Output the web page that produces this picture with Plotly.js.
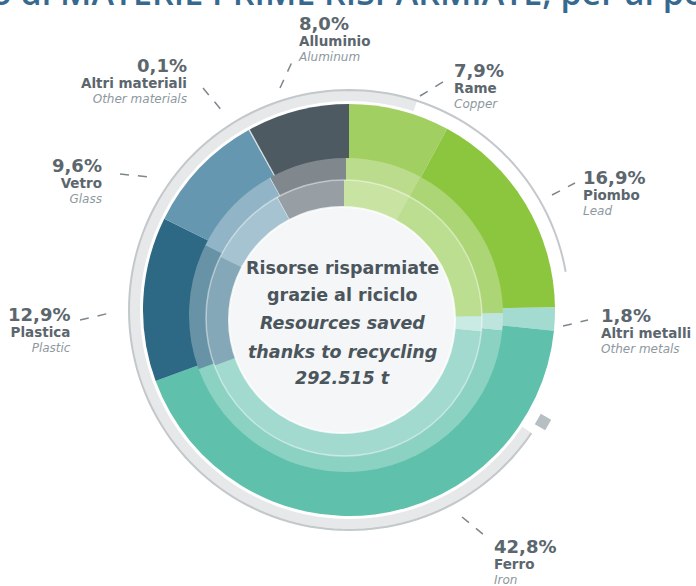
<!DOCTYPE html>
<html>
<head>
<meta charset="utf-8">
<script src="https://cdn.plot.ly/plotly-3.0.1.min.js"></script>
<style>html,body{margin:0;padding:0;background:#fff;}#chart{width:696px;height:586px;}</style>
</head>
<body>
<div id="chart"></div>
<script>
// ---- data ----
const labelsIt = ['Rame','Piombo','Altri metalli','Ferro','Plastica','Vetro','Altri materiali','Alluminio'];
const labelsEn = ['Copper','Lead','Other metals','Iron','Plastic','Glass','Other materials','Aluminum'];
const shares   = [7.9, 16.9, 1.8, 42.8, 12.9, 9.6, 0.1, 8.0];
const colors   = ['#a2cf61','#8cc63f','#a3dbd1','#5fc0ac','#2d6984','#6697b0','#d3dbdf','#4e5a62'];
const centerLines = ['Risorse risparmiate','grazie al riciclo','Resources saved','thanks to recycling','292.515 t'];
const topTitle = 'o di MATERIE PRIME RISPARMIATE, per al po';

// ---- geometry / styling ----
const W = 696, H = 586;
const px = x => x / W;
const py = y => 1 - y / H;
const C = {x: 349, y: 310};

function tint(hex, f) {
  const n = parseInt(hex.slice(1), 16);
  const r = (n >> 16) & 255, g = (n >> 8) & 255, b = n & 255;
  const m = v => Math.round(v + (255 - v) * f);
  return 'rgb(' + m(r) + ',' + m(g) + ',' + m(b) + ')';
}
function dom(cx, cy, r) {
  return {x: [px(cx - r), px(cx + r)], y: [py(cy + r), py(cy - r)]};
}
function pieTrace(cx, cy, r, f) {
  return {
    type: 'pie', values: shares, labels: labelsIt, sort: false, direction: 'clockwise', rotation: 0,
    textinfo: 'none', hoverinfo: 'skip', showlegend: false, hole: 0,
    marker: {colors: colors.map(c => tint(c, f)), line: {width: 0}},
    domain: dom(cx, cy, r)
  };
}
const data = [
  pieTrace(C.x, C.y, 206, 0),
  pieTrace(346, 315, 157, 0.28),
  pieTrace(344, 318, 138, 0.42)
];

function pt(cx, cy, r, a) {
  const t = a * Math.PI / 180;
  return [px(cx + r * Math.sin(t)), py(cy - r * Math.cos(t))];
}
function ringPath(cx, cy, r1, r2, a0, a1) {
  const pts = [];
  for (let a = a0; a <= a1; a += 2) pts.push(pt(cx, cy, r2, a));
  pts.push(pt(cx, cy, r2, a1));
  for (let a = a1; a >= a0; a -= 2) pts.push(pt(cx, cy, r1, a));
  pts.push(pt(cx, cy, r1, a0));
  return 'M' + pts.map(p => p[0] + ',' + p[1]).join('L') + 'Z';
}
function arcPath(cx, cy, r, a0, a1) {
  const pts = [];
  for (let a = a0; a <= a1; a += 2) pts.push(pt(cx, cy, r, a));
  pts.push(pt(cx, cy, r, a1));
  return 'M' + pts.map(p => p[0] + ',' + p[1]).join('L');
}
function circle(cx, cy, r, fill, line, lw) {
  return {type: 'circle', xref: 'paper', yref: 'paper', layer: 'above',
    x0: px(cx - r), x1: px(cx + r), y0: py(cy + r), y1: py(cy - r),
    fillcolor: fill, line: {color: line, width: lw}};
}
function squarePath(cx, cy, r, a, s) {
  const c = [], t = a * Math.PI / 180;
  const mx = cx + r * Math.sin(t), my = cy - r * Math.cos(t);
  const ux = Math.sin(t), uy = -Math.cos(t), vx = Math.cos(t), vy = Math.sin(t);
  [[-1,-1],[1,-1],[1,1],[-1,1]].forEach(([i,j]) => c.push([px(mx + (i*ux + j*vx)*s/2), py(my + (i*uy + j*vy)*s/2)]));
  return 'M' + c.map(p => p[0] + ',' + p[1]).join('L') + 'Z';
}

const shapes = [
  {type: 'path', xref: 'paper', yref: 'paper', layer: 'below', path: ringPath(C.x, C.y, 209, 220, 124, 378),
    fillcolor: '#e6e8e9', line: {width: 0}},
  {type: 'path', xref: 'paper', yref: 'paper', layer: 'below', path: arcPath(C.x, C.y, 220, 124, 440),
    fillcolor: 'rgba(0,0,0,0)', line: {color: '#c3c8cb', width: 2}},
  {type: 'path', xref: 'paper', yref: 'paper', layer: 'below', path: squarePath(C.x, C.y, 224, 120, 12),
    fillcolor: '#b8bfc3', line: {width: 0}},
  circle(344, 318, 138, 'rgba(0,0,0,0)', 'rgba(255,255,255,0.45)', 1.5),
  circle(342, 320, 113, '#f5f6f7', 'rgba(255,255,255,0.8)', 2)
];

// leader lines
const leaders = [
  [420,96,446,80], [552,195,575,183], [563,326,588,320], [462,517,484,535],
  [80,320,110,313], [120,174,150,177], [203,88,223,112], [280,88,292,62]
];
leaders.forEach(l => shapes.push({type: 'line', xref: 'paper', yref: 'paper', layer: 'above',
  x0: px(l[0]), y0: py(l[1]), x1: px(l[2]), y1: py(l[3]), line: {color: '#7d878d', width: 1.5, dash: 'dash'}}));

// label positions: [anchor x, align, block middle y]
const labelPos = [
  [452,'left',86], [581,'left',192], [599,'left',330], [492,'left',561],
  [73,'right',329], [104,'right',180], [189,'right',80], [296,'left',39]
];
const FONT = '"DejaVu Sans", Verdana, sans-serif';
const annotations = [];
shares.forEach((v, i) => {
  const p = labelPos[i];
  const txt = '<span style="font-size:18px;color:#5b666d"><b>' + v.toFixed(1).replace('.', ',') + '%</b></span><br>' +
              '<span style="font-size:13.5px;color:#5b666d"><b>' + labelsIt[i] + '</b></span><br>' +
              '<i>' + labelsEn[i] + '</i>';
  annotations.push({text: txt, xref: 'paper', yref: 'paper', x: px(p[0]), y: py(p[2]), xanchor: p[1], yanchor: 'middle',
    align: p[1], showarrow: false, font: {family: FONT, size: 12, color: '#8d989e'}});
});
const cy0 = [268, 295, 323, 352, 378];
centerLines.forEach((t, i) => {
  annotations.push({text: i < 2 ? '<b>' + t + '</b>' : '<b><i>' + t + '</i></b>', xref: 'paper', yref: 'paper',
    x: px(342), y: py(cy0[i]), xanchor: 'center', yanchor: 'middle', showarrow: false,
    font: {family: FONT, size: 17.5, color: '#4a555c'}});
});
annotations.push({text: topTitle, xref: 'paper', yref: 'paper', x: px(348), y: py(17), xanchor: 'center', yanchor: 'bottom',
  showarrow: false, font: {family: '"Open Sans", sans-serif', size: 34, weight: 600, color: '#37698e'}});

Plotly.newPlot('chart', data, {
  width: W, height: H, margin: {l: 0, r: 0, t: 0, b: 0},
  paper_bgcolor: '#ffffff', plot_bgcolor: '#ffffff',
  showlegend: false, shapes: shapes, annotations: annotations
}, {displayModeBar: false, staticPlot: true});
</script>
</body>
</html>
